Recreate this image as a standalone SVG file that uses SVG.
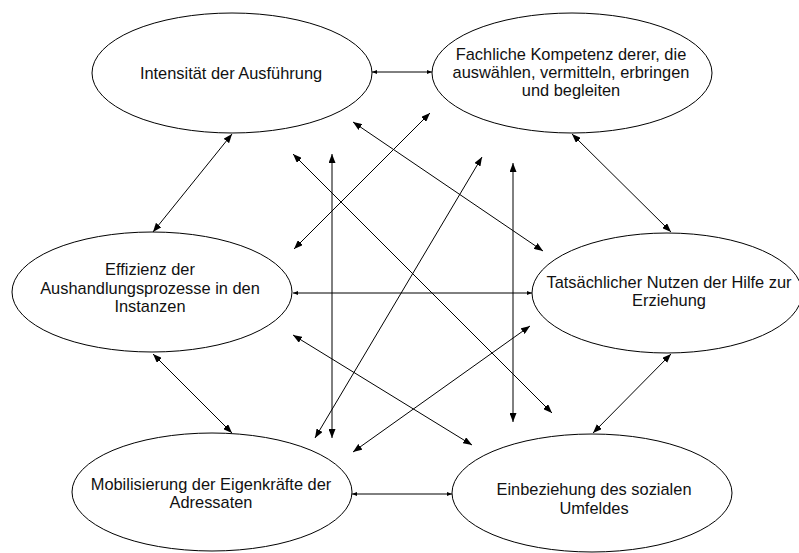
<svg xmlns="http://www.w3.org/2000/svg" width="799" height="553" viewBox="0 0 799 553">
  <style>
    .node ellipse { fill: #ffffff; stroke: #000000; stroke-width: 1; }
    .node text { font-family: "Liberation Sans", Arial, sans-serif; font-size: 16.4px; fill: #111111; text-anchor: middle; }
    .edge { stroke: #000000; stroke-width: 1; fill: none; marker-start: url(#arrow); marker-end: url(#arrow); }
    .edge.h { marker-start: url(#arrow-s); marker-end: url(#arrow-s); }
  </style>
  <defs>
    <marker id="arrow" viewBox="0 0 9 7" refX="9" refY="3.5" markerWidth="9" markerHeight="7" markerUnits="userSpaceOnUse" orient="auto-start-reverse">
      <path d="M0,0 L9,3.5 L0,7 z" fill="#000000"/>
    </marker>
    <marker id="arrow-s" viewBox="0 0 5 4" refX="5" refY="2" markerWidth="5" markerHeight="4" markerUnits="userSpaceOnUse" orient="auto-start-reverse">
      <path d="M0,0 L5,2 L0,4 z" fill="#000000"/>
    </marker>
  </defs>

  <rect width="799" height="553" fill="#ffffff"/>

  <g id="connectors">
    <line class="edge h" x1="372" y1="72" x2="432" y2="72"/>
    <line class="edge" x1="232" y1="134" x2="153" y2="232"/>
    <line class="edge" x1="572" y1="134" x2="671" y2="232"/>
    <line class="edge h" x1="293" y1="293" x2="532" y2="293"/>
    <line class="edge" x1="153" y1="354" x2="232" y2="433"/>
    <line class="edge" x1="671" y1="354" x2="593" y2="433"/>
    <line class="edge h" x1="352" y1="494" x2="452" y2="494"/>
    <line class="edge" x1="353" y1="122" x2="543" y2="251"/>
    <line class="edge" x1="293" y1="154" x2="552" y2="413"/>
    <line class="edge" x1="332" y1="154" x2="332" y2="438"/>
    <line class="edge" x1="294" y1="249" x2="430" y2="113"/>
    <line class="edge" x1="315" y1="438" x2="482" y2="157"/>
    <line class="edge" x1="513" y1="163" x2="513" y2="422"/>
    <line class="edge" x1="293" y1="335" x2="472" y2="445"/>
    <line class="edge" x1="530" y1="326" x2="353" y2="452"/>
  </g>

  <g id="intensitaet" class="node">
    <ellipse cx="232" cy="73" rx="140" ry="60"/>
    <text x="231" y="79">Intensität der Ausführung</text>
  </g>

  <g id="kompetenz" class="node">
    <ellipse cx="572" cy="73" rx="140" ry="60"/>
    <text x="571" y="59.5">Fachliche Kompetenz derer, die</text>
    <text x="571" y="77.5">auswählen, vermitteln, erbringen</text>
    <text x="571" y="96">und begleiten</text>
  </g>

  <g id="effizienz" class="node">
    <ellipse cx="152" cy="292" rx="140" ry="60"/>
    <text x="150" y="275">Effizienz der</text>
    <text x="150" y="293.5">Aushandlungsprozesse in den</text>
    <text x="150" y="312">Instanzen</text>
  </g>

  <g id="nutzen" class="node">
    <ellipse cx="667" cy="293" rx="135" ry="60"/>
    <text x="669" y="287.5">Tatsächlicher Nutzen der Hilfe zur</text>
    <text x="669" y="306">Erziehung</text>
  </g>

  <g id="mobilisierung" class="node">
    <ellipse cx="212" cy="492" rx="140" ry="59"/>
    <text x="211" y="489.5">Mobilisierung der Eigenkräfte der</text>
    <text x="211" y="508">Adressaten</text>
  </g>

  <g id="umfeld" class="node">
    <ellipse cx="592" cy="493" rx="140" ry="59"/>
    <text x="594" y="495">Einbeziehung des sozialen</text>
    <text x="594" y="513.5">Umfeldes</text>
  </g>
</svg>
